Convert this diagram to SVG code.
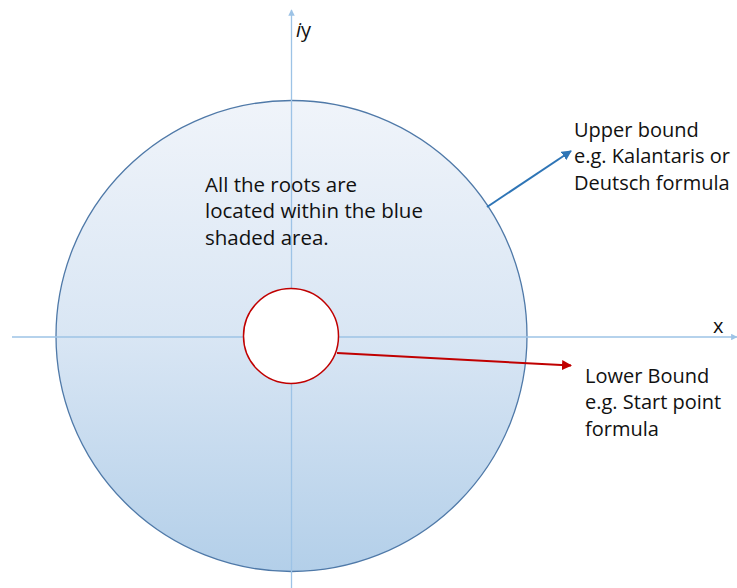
<svg xmlns="http://www.w3.org/2000/svg" width="737" height="588" viewBox="0 0 737 588">
<defs>
<linearGradient id="g" x1="0" y1="0" x2="0" y2="1">
<stop offset="0" stop-color="#f0f4fa"/>
<stop offset="0.5" stop-color="#d9e6f4"/>
<stop offset="1" stop-color="#b3cfe9"/>
</linearGradient>
<marker id="ab" viewBox="0 0 10 10" refX="9" refY="5" markerWidth="5" markerHeight="5" orient="auto"><path d="M0,0 L10,5 L0,10 z" fill="#9dc3e6"/></marker>
<marker id="ar" viewBox="0 0 10 10" refX="9" refY="5" markerWidth="5" markerHeight="5" orient="auto"><path d="M0,0 L10,5 L0,10 z" fill="#c00000"/></marker>
<marker id="au" viewBox="0 0 10 10" refX="9" refY="5" markerWidth="5" markerHeight="5" orient="auto"><path d="M0,0 L10,5 L0,10 z" fill="#2e75b6"/></marker>
</defs>
<style>
text{font-family:"Open Sans","Noto Sans",sans-serif;font-size:20px;fill:#111}
.c{font-size:20.5px}
.axis{stroke:#9dc3e6;stroke-width:1.3;fill:none}
</style>
<rect width="737" height="588" fill="#fff"/>
<g id="outer"><circle cx="291.5" cy="336" r="235.5" fill="url(#g)" stroke="#4f79a8" stroke-width="1.3"/></g>
<g id="axes">
<line class="axis" x1="291.5" y1="588" x2="291.5" y2="10" marker-end="url(#ab)"/>
<line class="axis" x1="12" y1="337" x2="737" y2="337" marker-end="url(#ab)"/>
</g>
<g id="inner"><circle cx="291" cy="336" r="47.5" fill="#fff" stroke="#c00000" stroke-width="1.5"/></g>
<g id="connectors">
<line x1="337" y1="353" x2="571" y2="365.5" stroke="#c00000" stroke-width="2" marker-end="url(#ar)"/>
<line x1="487" y1="207" x2="571" y2="151" stroke="#2e75b6" stroke-width="2" marker-end="url(#au)"/>
</g>
<g id="labels">
<text x="296" y="37"><tspan font-style="italic">i</tspan>y</text>
<text x="713" y="333">x</text>
<text class="c" x="205" y="192">All the roots are</text>
<text class="c" x="205" y="218">located within the blue</text>
<text class="c" x="205" y="245">shaded area.</text>
<text x="574" y="137">Upper bound</text>
<text x="574" y="163">e.g. Kalantaris or</text>
<text x="574" y="190">Deutsch formula</text>
<text x="585" y="383">Lower Bound</text>
<text x="585" y="409">e.g. Start point</text>
<text x="585" y="436">formula</text>
</g>
</svg>
